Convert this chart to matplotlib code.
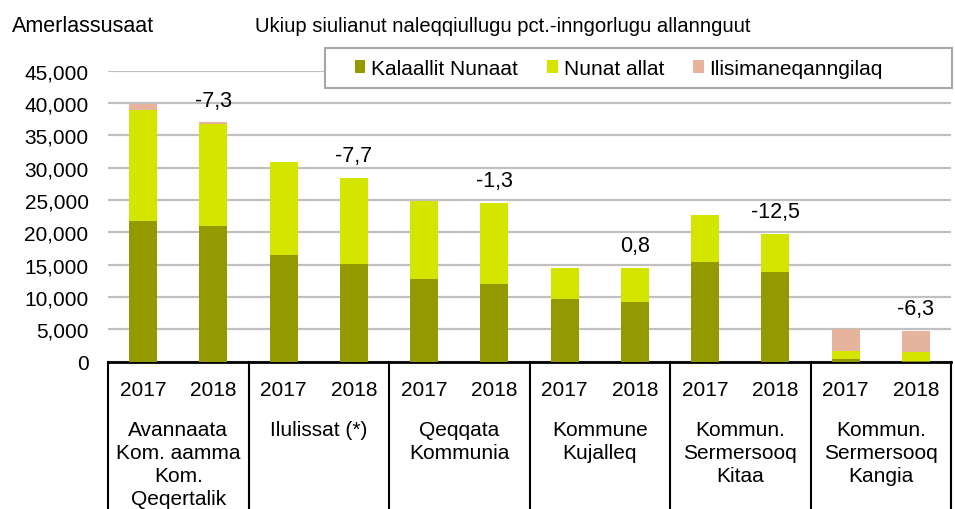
import matplotlib
matplotlib.use("Agg")
import matplotlib.pyplot as plt
import matplotlib.transforms as mtransforms
from matplotlib.lines import Line2D
from matplotlib.patches import Rectangle
import numpy as np

plt.rcParams['font.family'] = ['Liberation Sans', 'DejaVu Sans']

groups = ["Avannaata\nKom. aamma\nKom.\nQeqertalik", "Ilulissat (*)", "Qeqqata\nKommunia",
          "Kommune\nKujalleq", "Kommun.\nSermersooq\nKitaa", "Kommun.\nSermersooq\nKangia"]
years = ["2017", "2018"]
kal_2017 = [21800, 16500, 12800, 9600, 15400, 400]
kal_2018 = [21000, 15100, 12000, 9200, 13800, 100]
nun_2017 = [17100, 14300, 12100, 4900, 7300, 1300]
nun_2018 = [15700, 13300, 12600, 5300, 6000, 1400]
ili_2017 = [1000, 0, 0, 0, 0, 3300]
ili_2018 = [300, 0, 0, 0, 0, 3200]
pct_change = ["-7,3", "-7,7", "-1,3", "0,8", "-12,5", "-6,3"]
series_names = ["Kalaallit Nunaat", "Nunat allat", "Ilisimaneqanngilaq"]
colors = ["#939a00", "#d4e600", "#e6b49c"]
yticks = list(range(0, 45001, 5000))

# interleave
kal = np.array([v for pair in zip(kal_2017, kal_2018) for v in pair])
nun = np.array([v for pair in zip(nun_2017, nun_2018) for v in pair])
ili = np.array([v for pair in zip(ili_2017, ili_2018) for v in pair])
xlabels = [y for _ in groups for y in years]
x = np.arange(len(kal))

W, H = 955, 510
fig = plt.figure(figsize=(W / 100, H / 100), dpi=100)
ax = fig.add_axes([108/W, (H-362.5)/H, (951-108)/W, (362.5-71.7)/H])

w = 0.4
ax.bar(x, kal, w, color=colors[0], label=series_names[0], zorder=3)
ax.bar(x, nun, w, bottom=kal, color=colors[1], label=series_names[1], zorder=3)
ax.bar(x, ili, w, bottom=kal + nun, color=colors[2], label=series_names[2], zorder=3)

ax.set_xlim(-0.5, len(x) - 0.5)
ax.set_ylim(0, 45000)
ax.set_yticks(yticks)
ax.set_yticklabels([f"{v:,}" for v in yticks], fontsize=15)
ax.yaxis.grid(True, color="#c0c0c0", linewidth=1.6, zorder=0)
ax.set_axisbelow(True)
ax.tick_params(axis='y', length=0, pad=14)
ax.set_xticks(x)
ax.set_xticklabels(xlabels, fontsize=15)
ax.tick_params(axis='x', length=0, pad=13)
for s in ["left", "right", "top"]:
    ax.spines[s].set_visible(False)
ax.spines["bottom"].set_color("black")
ax.spines["bottom"].set_linewidth(2)

totals = kal + nun + ili
for g in range(len(groups)):
    i = 2 * g + 1
    ax.annotate(pct_change[g], xy=(x[i], totals[i]), xytext=(0, 16), textcoords="offset points",
                ha="center", va="center", fontsize=15.5)

trans = mtransforms.blended_transform_factory(ax.transData, fig.transFigure)
ybot = (H - 362.5) / H
for b in np.arange(-0.5, len(x), 2):
    fig.add_artist(Line2D([b, b], [ybot, 0], transform=trans, color="black", linewidth=1.5))
for g, name in enumerate(groups):
    fig.text(2 * g + 0.5, (H - 421) / H, name, transform=trans, ha="center", va="top",
             fontsize=15, linespacing=1.27)

fig.text(12/W, (H - 31.5) / H, "Amerlassusaat", fontsize=15.5, va="baseline", ha="left")
fig.text(255/W, (H - 31.5) / H, "Ukiup siulianut naleqqiullugu pct.-inngorlugu allannguut",
         fontsize=14.6, va="baseline", ha="left")

# legend frame
fig.add_artist(Rectangle((325/W, (H-89)/H), (952-325)/W, 40/H, transform=fig.transFigure,
                         facecolor="white", edgecolor="#a6a6a6", linewidth=1.5, zorder=4))
leg = fig.legend(loc="center left", bbox_to_anchor=(355/W, (H-69.5)/H), ncol=3, fontsize=15,
                 frameon=False, handlelength=0.5, handleheight=0.62, handletextpad=0.28,
                 columnspacing=1.4, borderpad=0, borderaxespad=0)
leg.set_zorder(5)

fig.savefig("out.png", dpi=100)
